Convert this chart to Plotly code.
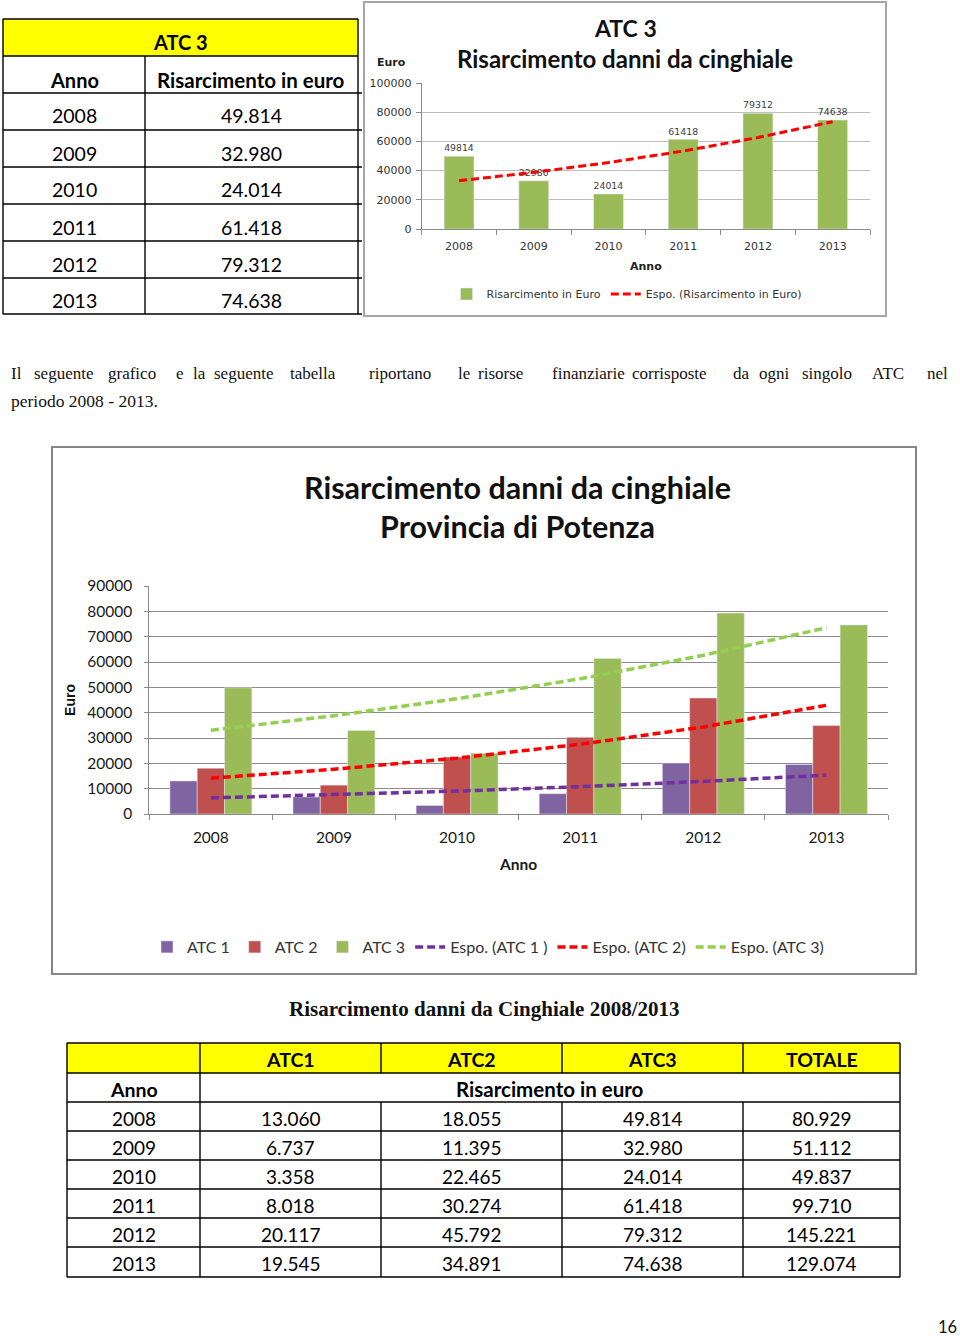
import numpy as np
import plotly.graph_objects as go

# ---------------- data ----------------
years = ["2008", "2009", "2010", "2011", "2012", "2013"]
atc1 = [13060, 6737, 3358, 8018, 20117, 19545]
atc2 = [18055, 11395, 22465, 30274, 45792, 34891]
atc3 = [49814, 32980, 24014, 61418, 79312, 74638]
totale = [80929, 51112, 49837, 99710, 145221, 129074]

small_title = ["ATC 3", "Risarcimento danni da cinghiale"]
big_title = ["Risarcimento danni da cinghiale", "Provincia di Potenza"]
bottom_headers = ["ATC1", "ATC2", "ATC3", "TOTALE"]
paragraph_words = ["Il", "seguente", "grafico", "e", "la", "seguente", "tabella",
                   "riportano", "le", "risorse", "finanziarie", "corrisposte",
                   "da", "ogni", "singolo", "ATC", "nel"]
paragraph_line2 = "periodo 2008 - 2013."
bottom_title = "Risarcimento danni da Cinghiale 2008/2013"
page_number = "16"

# ---------------- helpers ----------------
W, H = 960, 1339


def fx(p):
    return p / W


def fy(p):
    return 1 - p / H


def exp_trend(vals):
    """Excel-style exponential trend line (least squares on log values)."""
    t = np.arange(1, len(vals) + 1)
    b, a = np.polyfit(t, np.log(vals), 1)
    return list(np.exp(a + b * t))


def it_num(v):
    return f"{v:,}".replace(",", ".")


C1, C2, C3 = "#8064A2", "#C0504D", "#9BBB59"
T1, T2, T3 = "#7030A0", "#FF0000", "#92D050"
DASH = "8px,4px"

fig = go.Figure()

# ---------------- small chart (ATC 3) ----------------
fig.add_trace(go.Bar(
    x=years, y=atc3, name="Risarcimento in Euro", marker_color=C3, width=0.4,
    text=[str(v) for v in atc3], textposition="outside", cliponaxis=False,
    textfont=dict(family="DejaVu Sans", size=10.5, color="#404040"),
    xaxis="x", yaxis="y", legend="legend"))
fig.add_trace(go.Scatter(
    x=years, y=exp_trend(atc3), mode="lines", name="Espo. (Risarcimento in Euro)",
    line=dict(color="#FF0000", width=3, dash=DASH),
    xaxis="x", yaxis="y", legend="legend"))

# ---------------- big chart ----------------
for name, vals, col in [("ATC 1", atc1, C1), ("ATC 2", atc2, C2), ("ATC 3", atc3, C3)]:
    fig.add_trace(go.Bar(x=years, y=vals, name=name, marker_color=col,
                         xaxis="x2", yaxis="y2", legend="legend2"))
for name, vals, col in [("Espo. (ATC 1 )", atc1, T1), ("Espo. (ATC 2)", atc2, T2),
                        ("Espo. (ATC 3)", atc3, T3)]:
    fig.add_trace(go.Scatter(x=years, y=exp_trend(vals), mode="lines", name=name,
                             line=dict(color=col, width=3.5, dash=DASH),
                             xaxis="x2", yaxis="y2", legend="legend2"))

shapes = []
annotations = []


def line(x0, y0, x1, y1, color="black", width=1.4):
    shapes.append(dict(type="line", xref="paper", yref="paper",
                       x0=fx(x0), y0=fy(y0), x1=fx(x1), y1=fy(y1),
                       line=dict(color=color, width=width), layer="above"))


def rect(x0, y0, x1, y1, fill=None, color="black", width=1.4, layer="below"):
    shapes.append(dict(type="rect", xref="paper", yref="paper",
                       x0=fx(x0), y0=fy(y0), x1=fx(x1), y1=fy(y1),
                       fillcolor=fill if fill else "rgba(0,0,0,0)",
                       line=dict(color=color, width=width), layer=layer))


def text(x, y, s, size=18, family="Lato", color="black", bold=False, anchor="center"):
    annotations.append(dict(x=fx(x), y=fy(y), xref="paper", yref="paper",
                            text=f"<b>{s}</b>" if bold else s, showarrow=False,
                            xanchor=anchor, yanchor="middle", borderpad=0,
                            font=dict(family=family, size=size, color=color)))


# chart frames
rect(364, 2, 886, 316, color="#A6A6A6", width=2)
rect(52, 447, 916, 974, color="#868686", width=2)

# small chart texts
text(625, 28, small_title[0], size=23, bold=True, color="#111")
text(625, 59, small_title[1], size=24, bold=True, color="#111")
text(391, 63, "Euro", size=11, family="DejaVu Sans", bold=True, color="#222")

# big chart title
text(517, 487, big_title[0], size=30.5, bold=True, color="#111")
text(517, 526, big_title[1], size=30.5, bold=True, color="#111")

# ---------------- top table ----------------
TT_Y = [19, 56, 93, 130, 167, 204, 241, 278, 314]
rect(3, 19, 358, 56, fill="#FFFF00", width=0)
for yy in TT_Y:
    line(3, yy, 358 if yy < 93 else 362, yy)
line(3, 19, 3, 314)
line(358, 19, 358, 314)
line(145, 56, 145, 314)
text(180.5, 42, "ATC 3", size=20, bold=True)
text(74, 80, "Anno", size=20, bold=True)
text(251, 80, "Risarcimento in euro", size=20.5, bold=True)
for i, (yr, v) in enumerate(zip(years, atc3)):
    cy = (TT_Y[i + 2] + TT_Y[i + 3]) / 2 + 4.5
    text(74, cy, yr, size=19.5)
    text(251, cy, it_num(v), size=19.5)

# ---------------- paragraph ----------------
word_x = [10, 33, 107, 175, 191.5, 213, 289, 368, 457, 477, 551, 631, 732, 758,
          801, 871, 926]
for w, x0 in zip(paragraph_words, word_x):
    text(x0, 373, w, size=17, family="Liberation Serif", color="#111", anchor="left")
text(10, 401, paragraph_line2, size=17.5, family="Liberation Serif", color="#111",
     anchor="left")

# ---------------- bottom table ----------------
text(484, 1009, bottom_title, size=21, family="Liberation Serif", bold=True,
     color="#111")
BT_X = [67, 200, 381, 562, 743, 900]
BT_Y = [1043, 1073, 1102, 1131, 1160, 1189, 1218, 1247, 1277]
rect(67, 1043, 900, 1073, fill="#FFFF00", width=0)
for yy in BT_Y:
    line(67, yy, 900, yy)
for xx in [67, 200, 900]:
    line(xx, 1043, xx, 1277)
for xx in [381, 562, 743]:
    line(xx, 1043, xx, 1073)
    line(xx, 1102, xx, 1277)
col_c = [(BT_X[i] + BT_X[i + 1]) / 2 for i in range(5)]
for c, h in zip(col_c[1:], bottom_headers):
    text(c, 1059, h, size=19.5, bold=True)
text(col_c[0], 1089, "Anno", size=19.5, bold=True)
text((200 + 900) / 2, 1089, "Risarcimento in euro", size=20.5, bold=True)
for i in range(len(years)):
    cy = (BT_Y[i + 2] + BT_Y[i + 3]) / 2 + 1.5
    row = [years[i], it_num(atc1[i]), it_num(atc2[i]), it_num(atc3[i]), it_num(totale[i])]
    for c, s in zip(col_c, row):
        text(c, cy, s, size=19)

# page number
text(947, 1327, page_number, size=16.5, color="#111")

axis_grey = "#8A8A8A"
fig.update_layout(
    width=W, height=H, autosize=False,
    margin=dict(l=0, r=0, t=0, b=0, pad=0, autoexpand=False),
    paper_bgcolor="white", plot_bgcolor="white",
    barmode="group", bargap=0.334, bargroupgap=0,
    shapes=shapes, annotations=annotations,
    xaxis=dict(domain=[fx(421.7), fx(870)], anchor="y", type="category", automargin=False,
               showline=True, linecolor=axis_grey, ticks="outside", tickson="boundaries",
               ticklen=5, tickcolor=axis_grey, showgrid=False, ticklabelstandoff=7,
               tickfont=dict(family="DejaVu Sans", size=11, color="#333"),
               title=dict(text="<b>Anno</b>", standoff=10,
                          font=dict(family="DejaVu Sans", size=11, color="#222"))),
    yaxis=dict(domain=[fy(229), fy(83)], anchor="x", range=[0, 100000], dtick=20000,
               tickformat="d", automargin=False,
               showgrid=True, gridcolor="#BDBDBD", zeroline=False, showline=True,
               linecolor=axis_grey, ticks="outside", ticklen=5, tickcolor=axis_grey,
               ticklabelstandoff=2,
               tickfont=dict(family="DejaVu Sans", size=11, color="#333")),
    xaxis2=dict(domain=[fx(149.3), fx(888)], anchor="y2", type="category", automargin=False,
                showline=True, linecolor=axis_grey, ticks="outside", tickson="boundaries",
                ticklen=5, tickcolor=axis_grey, showgrid=False,
                tickfont=dict(family="Lato", size=15.5, color="#1a1a1a"),
                ticklabelstandoff=9,
                title=dict(text="<b>Anno</b>", standoff=14,
                           font=dict(family="Lato", size=15.5, color="#1a1a1a"))),
    yaxis2=dict(domain=[fy(814), fy(586)], anchor="x2", range=[0, 90000], dtick=10000,
                tickformat="d", automargin=False,
                showgrid=True, gridcolor="#8C8C8C", zeroline=False, showline=True,
                linecolor=axis_grey, ticks="outside", ticklen=4, tickcolor=axis_grey,
                ticklabelstandoff=9,
                tickfont=dict(family="Lato", size=15.5, color="#1a1a1a"),
                title=dict(text="<b>Euro</b>", standoff=8,
                           font=dict(family="Liberation Sans", size=14, color="#111"))),
    legend=dict(x=fx(627), y=fy(294), xanchor="center", yanchor="middle",
                orientation="h", bgcolor="rgba(0,0,0,0)",
                font=dict(family="DejaVu Sans", size=11, color="#333")),
    legend2=dict(x=fx(488), y=fy(947), xanchor="center", yanchor="middle",
                 orientation="h", bgcolor="rgba(0,0,0,0)",
                 font=dict(family="Lato", size=16, color="#333")),
)

fig.write_html("out.html")
